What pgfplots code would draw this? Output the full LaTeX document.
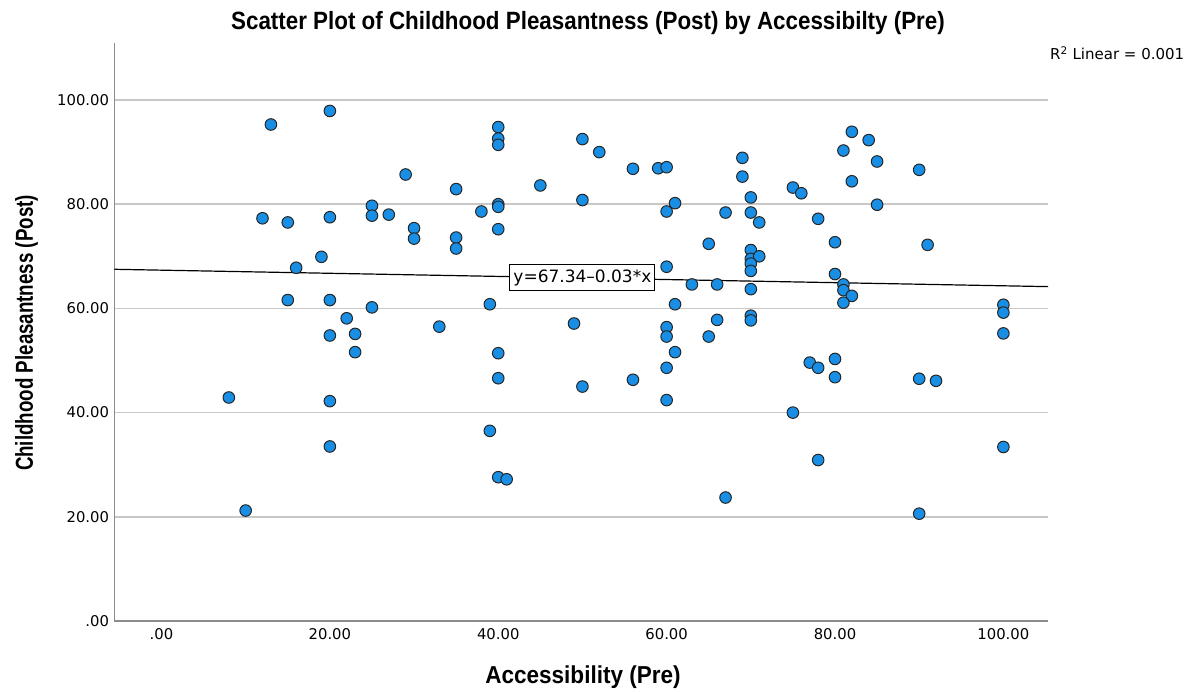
\documentclass[border=0pt]{standalone}
\usepackage{pgfplots}
\pgfplotsset{compat=1.18}
\usepackage{fontspec}
\setmainfont{Liberation Sans}
\newfontfamily\tickfont{DejaVu Sans}
\usepackage{graphicx}

\definecolor{dotblue}{RGB}{24,142,228}
\definecolor{gridgray}{RGB}{200,200,200}
\definecolor{axgray}{RGB}{140,140,140}

\pgfplotstableread{
x y
8 42.9
10 21.2
12 77.3
13 95.3
15 76.5
15 61.6
16 67.8
19 69.9
20 97.9
20 77.5
20 61.6
20 54.8
20 42.2
20 33.5
22 58.1
23 55.1
23 51.6
25 79.7
25 77.8
25 60.2
27 78.0
29 85.7
30 75.4
30 73.4
33 56.5
35 82.9
35 73.6
35 71.5
38 78.6
39 60.8
39 36.5
40 94.8
40 92.6
40 91.4
40 80.0
40 79.5
40 75.2
40 51.4
40 46.6
40 27.6
41 27.2
45 83.6
49 57.1
50 92.5
50 80.8
50 45.0
52 90.0
56 86.8
56 46.3
59 86.9
60 87.1
60 78.6
61 80.2
60 68.0
61 60.8
60 56.4
60 54.6
61 51.6
60 48.6
60 42.4
63 64.6
66 64.6
65 72.4
66 57.8
65 54.6
67 78.4
67 23.7
69 88.9
69 85.3
70 81.3
70 78.4
71 76.5
70 71.2
70 69.5
71 70.0
70 68.6
70 67.2
70 63.7
70 58.6
70 57.7
75 83.2
76 82.1
78 77.2
80 72.7
80 66.6
81 64.6
81 63.5
82 62.4
81 61.1
82 93.9
84 92.3
81 90.3
82 84.4
85 88.2
85 79.9
77 49.6
78 48.6
80 50.3
80 46.8
75 40.0
78 30.9
90 86.6
91 72.2
100 60.7
100 59.2
100 55.2
90 46.5
92 46.1
100 33.4
90 20.6
}\scores

\begin{document}
\begin{tikzpicture}
\begin{axis}[
  scale only axis,
  width=933.5pt, height=578.3pt,
  xmin=-5.58, xmax=105.3,
  ymin=0, ymax=111.0,
  axis lines=left,
  axis line style={-, axgray, line width=1.3pt},
  xtick={0,20,40,60,80,100},
  ytick={0,20,40,60,80,100},
  xticklabels={.00,20.00,40.00,60.00,80.00,100.00},
  yticklabels={.00,20.00,40.00,60.00,80.00,100.00},
  major tick length=0pt,
  ymajorgrids,
  grid style={gridgray, line width=1.5pt},
  tick label style={font=\tickfont\fontsize{14.8}{16}\selectfont},
  xticklabel style={yshift=-4pt},
  yticklabel style={xshift=-2pt},
  clip=false,
]
\coordinate (sw) at (rel axis cs:0,0);
% fitted line y = 67.34 - 0.03 x across the plotted range
\addplot[black, line width=1.2pt] coordinates {(-5.58,67.507) (105.3,64.181)};
\addplot[only marks, mark=*, mark size=5.8pt,
  mark options={fill=dotblue, draw=black!85, line width=1pt}]
  table[x=x, y=y] {\scores};
\node[draw=black, line width=1pt, fill=white, inner xsep=3.5pt, inner ysep=5pt,
  font=\tickfont\fontsize{17}{19}\selectfont]
  at (axis cs:50,65.9) {y=67.34\textendash0.03*x};
\end{axis}
\node[font=\bfseries\fontsize{25}{28}\selectfont] at ([shift={(473.5pt,598pt)}]sw)
  {\scalebox{0.895}[1]{Scatter Plot of Childhood Pleasantness (Post) by Accessibilty (Pre)}};
\node[font=\bfseries\fontsize{24.5}{27}\selectfont] at ([shift={(468.5pt,-56pt)}]sw)
  {\scalebox{0.92}[1]{Accessibility (Pre)}};
\node[font=\bfseries\fontsize{24.5}{27}\selectfont, rotate=90] at ([shift={(-88pt,288pt)}]sw)
  {\scalebox{0.765}[1]{Childhood Pleasantness (Post)}};
\node[anchor=west, inner sep=0pt, font=\tickfont\fontsize{15}{17}\selectfont]
  at ([shift={(935.5pt,568pt)}]sw) {R\textsuperscript{2} Linear = 0.001};
\path (sw) ++(-114.5pt,-70pt) rectangle ++(1196pt,691pt);
\end{tikzpicture}
\end{document}
